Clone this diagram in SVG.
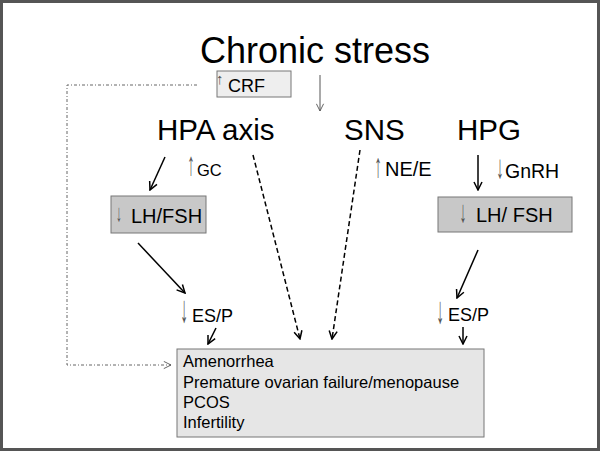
<svg xmlns="http://www.w3.org/2000/svg" width="600" height="451" viewBox="0 0 600 451">
<defs>
<style>
text{font-family:"Liberation Sans",Arial,sans-serif;fill:#000}
.big{font-size:36px}
.ax{font-size:29.5px}
.sm{font-size:16.5px}
.arr{fill:#555;text-anchor:middle}
.solid{stroke:#000;stroke-width:1.5;fill:none}
.dash{stroke:#000;stroke-width:1.5;fill:none;stroke-dasharray:5,3}
.thin{stroke:#555;stroke-width:1;fill:none}
.dd{stroke:#666;stroke-width:1;fill:none;stroke-dasharray:3,2,1,2}
</style>
<marker id="ah" viewBox="0 0 10 10" refX="9" refY="5" markerWidth="10" markerHeight="10" markerUnits="userSpaceOnUse" orient="auto">
<path d="M1,1 L9,5 L1,9" fill="none" stroke="#000" stroke-width="1.5"/>
</marker>
<marker id="ahg" viewBox="0 0 10 10" refX="9" refY="5" markerWidth="9" markerHeight="9" markerUnits="userSpaceOnUse" orient="auto">
<path d="M1,1 L9,5 L1,9" fill="none" stroke="#555" stroke-width="1"/>
</marker>
</defs>
<rect x="0" y="0" width="600" height="451" fill="#fff"/>
<rect x="1.5" y="1.5" width="597" height="448" fill="none" stroke="#555" stroke-width="3"/>

<g id="chronic-stress"><text class="big" x="200" y="63">Chronic stress</text></g>
<g id="crf"><rect x="217" y="71" width="74" height="26" fill="#eee" stroke="#777" stroke-width="1"/>
<text x="216" y="84" font-size="15"><tspan fill="#555">↑</tspan><tspan x="228" y="92" font-size="18">CRF</tspan></text></g>
<g id="hpa"><text class="ax" x="157" y="140">HPA axis</text></g>
<g id="sns"><text class="ax" x="344" y="140">SNS</text></g>
<g id="hpg"><text class="ax" x="457" y="140">HPG</text></g>
<g id="gc"><text class="arr" font-size="33" transform="translate(191,175) scale(0.45,1)">↑</text>
<text x="197" y="176" font-size="16.5">GC</text></g>
<g id="nee"><text class="arr" font-size="34" transform="translate(378,177) scale(0.45,1)">↑</text>
<text x="385" y="176" font-size="20">NE/E</text></g>
<g id="gnrh"><text class="arr" font-size="33" transform="translate(500,178) scale(0.45,1)">↓</text>
<text x="505" y="178" font-size="19.5">GnRH</text></g>
<g id="lhfsh-left"><rect x="111" y="196" width="95" height="37" fill="#c8c8c8" stroke="#777" stroke-width="1"/>
<text class="arr" font-size="24" transform="translate(119,221) scale(0.5,1)">↓</text>
<text x="131" y="223" font-size="20">LH/FSH</text></g>
<g id="lhfsh-right"><rect x="438" y="197" width="134" height="35" fill="#c8c8c8" stroke="#777" stroke-width="1"/>
<text class="arr" font-size="31" transform="translate(463,222) scale(0.45,1)">↓</text>
<text x="476" y="222" font-size="20">LH/ FSH</text></g>
<g id="esp-left"><text class="arr" font-size="38" transform="translate(184,322) scale(0.4,1)">↓</text>
<text x="192" y="322" font-size="18">ES/P</text></g>
<g id="esp-right"><text class="arr" font-size="38" transform="translate(440,323) scale(0.4,1)">↓</text>
<text x="448" y="321" font-size="18">ES/P</text></g>
<g id="outcomes"><rect x="177" y="349" width="307" height="88" fill="#e6e6e6" stroke="#777" stroke-width="1"/>
<text class="sm" x="183" y="367">Amenorrhea</text>
<text class="sm" x="183" y="388">Premature ovarian failure/menopause</text>
<text class="sm" x="183" y="408">PCOS</text>
<text class="sm" x="183" y="428">Infertility</text></g>

<g id="connectors">
<line class="thin" x1="320" y1="75" x2="320" y2="111" marker-end="url(#ahg)"/>
<polyline class="dd" points="197,85 67,85 67,365 171,365" marker-end="url(#ahg)"/>
<line class="solid" x1="165" y1="157" x2="150" y2="190" marker-end="url(#ah)"/>
<line class="dash" x1="253" y1="155" x2="300" y2="339" marker-end="url(#ah)"/>
<line class="dash" x1="360" y1="150" x2="332" y2="339" marker-end="url(#ah)"/>
<line class="solid" x1="478" y1="155" x2="478" y2="190" marker-end="url(#ah)"/>
<line class="solid" x1="138" y1="243" x2="185" y2="293" marker-end="url(#ah)"/>
<line class="solid" x1="478" y1="250" x2="457" y2="298" marker-end="url(#ah)"/>
<line class="solid" x1="216" y1="328" x2="208" y2="344" marker-end="url(#ah)"/>
<line class="solid" x1="463" y1="327" x2="463" y2="344" marker-end="url(#ah)"/>
</g>
</svg>
